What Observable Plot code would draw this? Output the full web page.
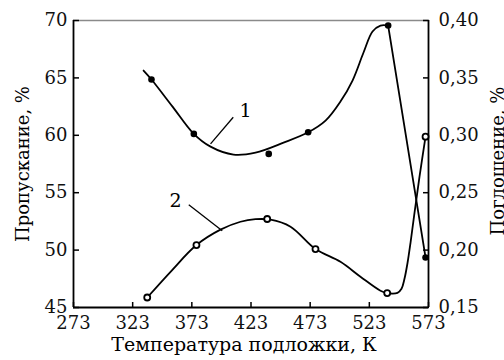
<!DOCTYPE html>
<html><head><meta charset="utf-8">
<script src="https://cdn.jsdelivr.net/npm/d3@7"></script>
<script src="https://cdn.jsdelivr.net/npm/@observablehq/plot@0.6"></script>
<style>html,body{margin:0;padding:0;background:#fff}svg{display:block}</style>
</head><body><div id="chart"></div>
<script>
// tick labels
const xTicks = [273, 323, 373, 423, 473, 523, 573];
const leftTicks = [45, 50, 55, 60, 65, 70];
const rightTicks = [0.15, 0.20, 0.25, 0.30, 0.35, 0.40];

// curve 1: Пропускание, % (left axis) — measured points
const p1T = [338.9, 374.7, 438.0, 471.3, 538.9, 570.5];
const p1V = [64.86, 60.12, 58.38, 60.26, 69.56, 49.36];
// curve 1: drawn fit
const f1T = [332.2, 338.9, 356.7, 374.4, 388.8, 408.2, 426.8, 450.5, 471.3, 486.0, 498.6, 508.8, 518.1, 525.7, 532.4, 538.9];
const f1V = [65.64, 64.86, 62.50, 60.15, 59.01, 58.32, 58.49, 59.36, 60.26, 61.28, 62.94, 64.77, 67.21, 69.04, 69.56, 69.56];
const d1T = [538.9, 570.5];
const d1V = [69.56, 49.36];

// curve 2: Поглощение, % (right axis) — measured points
const p2T = [335.3, 376.9, 436.7, 477.5, 538.1, 570.5];
const p2V = [0.1587, 0.2044, 0.2271, 0.2009, 0.1626, 0.2988];
// curve 2: drawn fit
const f2T = [335.3, 355.8, 376.9, 397.2, 414.1, 426.8, 439.5, 456.4, 477.5, 498.6, 515.5, 532.4, 538.1, 546.8, 550.2, 552.7, 555.3, 557.8, 561.2, 565.4, 570.5];
const f2V = [0.1587, 0.1820, 0.2044, 0.2178, 0.2247, 0.2269, 0.2265, 0.2204, 0.2009, 0.1898, 0.1768, 0.1646, 0.1626, 0.1628, 0.1663, 0.1750, 0.1890, 0.2064, 0.2326, 0.2640, 0.2988];

// curve labels and leader lines
const labelText = ["1", "2"];
const labelT = [418.4, 359.2];
const labelV = [62.15, 54.26];
const leadT1 = [408.0, 370.4];
const leadV1 = [61.57, 53.96];
const leadT2 = [388.8, 398.7];
const leadV2 = [59.25, 51.69];

const xTitle = "Температура подложки, К";
const yTitle = "Пропускание, %";
const y2Title = "Поглощение, %";

// map right-axis value onto left-axis scale
const toLeft = v => 45 + (v - 0.15) * 100;
const fmtRight = d => ((d - 45) / 100 + 0.15).toFixed(2).replace(".", ",");

const zip = (a, b) => a.map((t, i) => ({t, v: b[i]}));
const pts1 = zip(p1T, p1V), fit1 = zip(f1T, f1V), drop1 = zip(d1T, d1V);
const pts2 = zip(p2T, p2V), fit2 = zip(f2T, f2V);
const labels = labelText.map((s, i) => ({s, t: labelT[i], v: labelV[i]}));
const leads = leadT1.map((t, i) => ({t1: t, v1: leadV1[i], t2: leadT2[i], v2: leadV2[i]}));

const font = "DejaVu Serif";
const tf = {fontFamily: font, fill: "#000"};

const chart = Plot.plot({
  width: 504,
  height: 360,
  marginLeft: 73,
  marginRight: 76,
  marginTop: 20,
  marginBottom: 53,
  style: {fontFamily: font, fontSize: "18px", color: "#000", background: "#fff"},
  x: {domain: [273, 573], axis: null},
  y: {domain: [45, 70], axis: null},
  marks: [
    Plot.ruleY([70], {stroke: "#8a8a8a", strokeWidth: 1.6}),
    Plot.ruleY([45], {stroke: "#000", strokeWidth: 1.8}),
    Plot.ruleX([273, 573], {stroke: "#000", strokeWidth: 1.8}),
    Plot.axisY(leftTicks, {anchor: "left", tickSize: -6, tickPadding: 12, strokeWidth: 1.5, fontSize: 18, fontFamily: font, fill: "#111", label: null}),
    Plot.axisY(rightTicks.map(toLeft), {anchor: "right", tickSize: -6, tickPadding: 16, strokeWidth: 1.5, fontSize: 18, fontFamily: font, fill: "#111", tickFormat: fmtRight, label: null}),
    Plot.axisX(xTicks, {anchor: "bottom", tickSize: -5, tickPadding: 14, strokeWidth: 1.5, fontSize: 18, fontFamily: font, fill: "#111", tickFormat: d => String(d), label: null}),
    Plot.line(fit1, {x: "t", y: "v", curve: "catmull-rom", stroke: "#000", strokeWidth: 1.8}),
    Plot.line(drop1, {x: "t", y: "v", stroke: "#000", strokeWidth: 1.8}),
    Plot.line(fit2, {x: "t", y: d => toLeft(d.v), curve: "catmull-rom", stroke: "#000", strokeWidth: 1.8}),
    Plot.dot(pts1, {x: "t", y: "v", r: 3.3, fill: "#000"}),
    Plot.dot(pts2, {x: "t", y: d => toLeft(d.v), r: 3, fill: "#fff", stroke: "#000", strokeWidth: 1.8}),
    Plot.link(leads, {x1: "t1", y1: "v1", x2: "t2", y2: "v2", stroke: "#000", strokeWidth: 1.3}),
    Plot.text(labels, {x: "t", y: "v", text: "s", fontSize: 19, textAnchor: "middle", ...tf}),
    Plot.text([xTitle], {frameAnchor: "bottom", textAnchor: "middle", dx: -7, dy: 43.2, fontSize: 19, ...tf}),
    Plot.text([yTitle], {frameAnchor: "left", textAnchor: "middle", dx: -50.3, dy: 0, rotate: -90, fontSize: 18, ...tf}),
    Plot.text([y2Title], {frameAnchor: "right", textAnchor: "middle", dx: 70.2, dy: -3, rotate: -90, fontSize: 18, ...tf})
  ]
});
document.getElementById("chart").appendChild(chart);
</script>
</body></html>
